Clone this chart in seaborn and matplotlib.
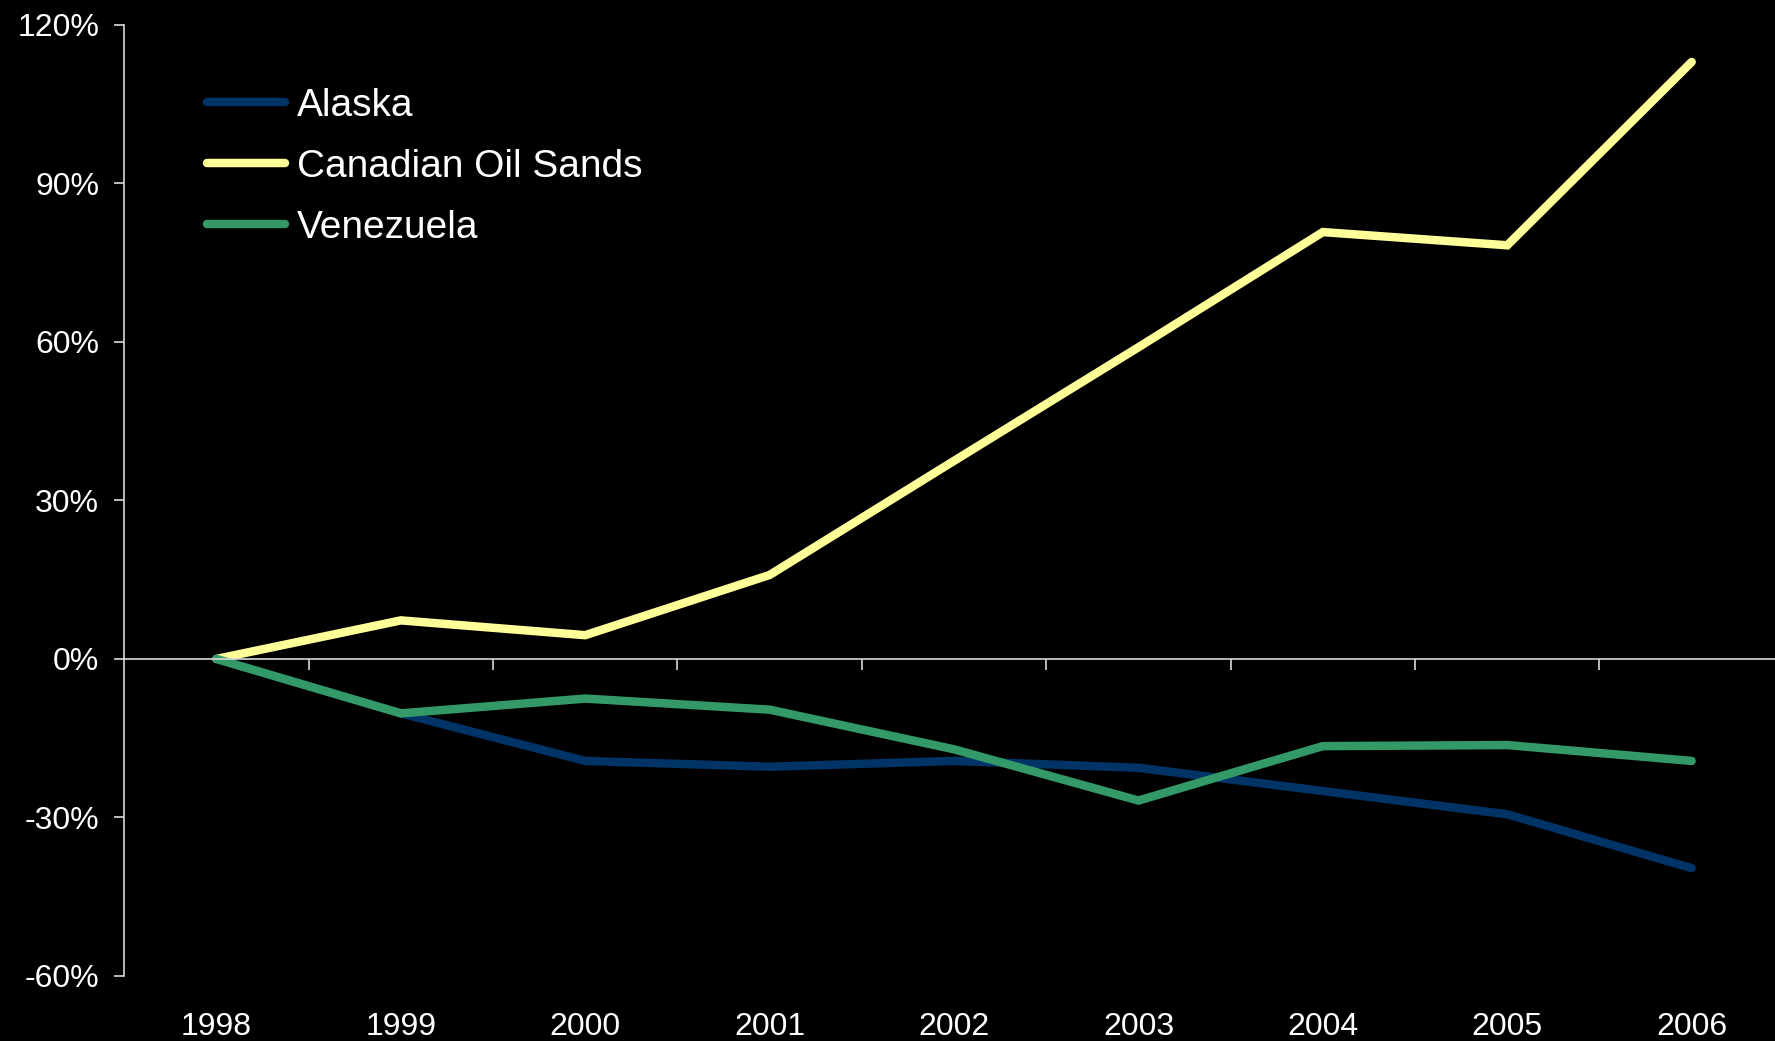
import seaborn as sns
import matplotlib.pyplot as plt
import matplotlib.ticker as mticker
import pandas as pd

# data (percent change vs 1998)
years = ["1998", "1999", "2000", "2001", "2002", "2003", "2004", "2005", "2006"]
alaska = [0, -10.3, -19.3, -20.4, -19.3, -20.6, -25.0, -29.4, -39.6]
canadian_oil_sands = [0, 7.3, 4.5, 15.9, 37.5, 59.0, 80.8, 78.3, 113.0]
venezuela = [0, -10.3, -7.5, -9.6, -17.1, -26.8, -16.5, -16.3, -19.3]

series_names = ["Alaska", "Canadian Oil Sands", "Venezuela"]
colors = ["#003366", "#FFFF99", "#339966"]

df = pd.DataFrame({
    "pos": list(range(len(years))) * 3,
    "value": alaska + canadian_oil_sands + venezuela,
    "series": [s for s in series_names for _ in years],
})

sns.set_theme(style="white")
plt.rcParams["font.family"] = ["Liberation Sans", "DejaVu Sans"]

fig = plt.figure(figsize=(17.75, 10.41), dpi=100, facecolor="black")
ax = fig.add_axes([0.070, 0.0625, 0.935, 0.9135])
ax.set_facecolor("black")

sns.lineplot(data=df, x="pos", y="value", hue="series", hue_order=series_names,
             palette=colors, linewidth=6.1, ax=ax, legend=False, sort=False)
for ln in ax.lines:
    ln.set_solid_capstyle("round")
    ln.set_solid_joinstyle("miter")

ax.set_xlim(-0.5, len(years) - 0.5)
ax.set_ylim(-60, 120)
ax.set_xlabel("")
ax.set_ylabel("")

# y axis
ax.set_yticks(range(-60, 121, 30))
ax.yaxis.set_major_formatter(mticker.FuncFormatter(lambda v, p: f"{v:.0f}%"))
ax.tick_params(axis="y", colors="#d9d9d9", labelcolor="white", labelsize=23,
               length=7, width=1.2, direction="out", pad=11, left=True)

# x axis line at zero with ticks between categories
for s in ["top", "right"]:
    ax.spines[s].set_visible(False)
ax.spines["left"].set_color("#d9d9d9")
ax.spines["left"].set_linewidth(1.2)
ax.spines["bottom"].set_position(("data", 0))
ax.spines["bottom"].set_color("#d9d9d9")
ax.spines["bottom"].set_linewidth(1.2)
ax.set_xticks([i + 0.5 for i in range(len(years) - 1)])
ax.tick_params(axis="x", colors="#d9d9d9", length=8, width=1.2, direction="out",
               labelbottom=False, bottom=True)

# year labels at the bottom of the plot area
sec = ax.secondary_xaxis("bottom")
sec.set_xticks(range(len(years)))
sec.set_xticklabels(years)
sec.tick_params(length=0, labelsize=23, labelcolor="white", pad=26)
sec.spines["bottom"].set_visible(False)

# legend
handles = [plt.Line2D([0], [0], color=c, lw=6.1, solid_capstyle="round") for c in colors]
leg = ax.legend(handles, series_names, loc="upper left", bbox_to_anchor=(0.05, 0.934),
                frameon=False, fontsize=28, handlelength=2.0, handletextpad=0.3,
                labelspacing=0.64, borderaxespad=0, borderpad=0)
for t in leg.get_texts():
    t.set_color("white")

fig.savefig("out.png", dpi=100, facecolor="black")
